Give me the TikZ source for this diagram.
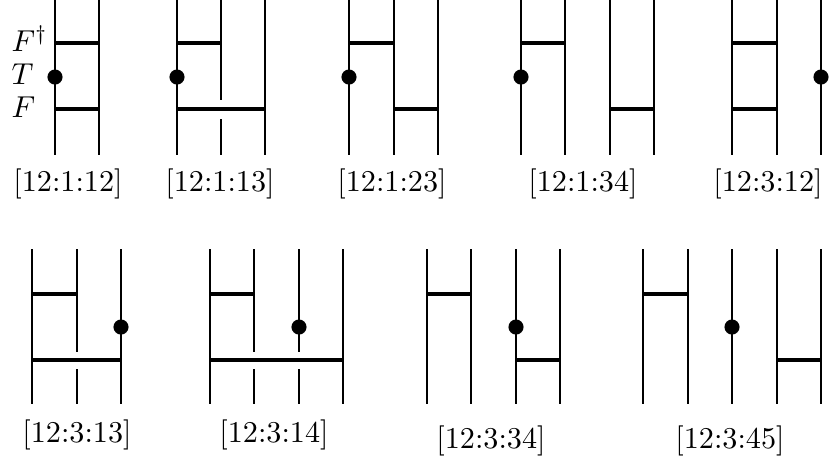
\documentclass[tikz,border=0pt]{standalone}
\usetikzlibrary{calc}
\begin{document}
\begin{tikzpicture}[x=0.331pt,y=-0.331pt,
  wire/.style={line width=0.7pt},
  bar/.style={line width=1.5pt},
  dotmark/.style={circle,fill=black,inner sep=0pt,minimum size=5pt},
  tag/.style={font=\fontsize{10}{12}\selectfont},
  sidelabel/.style={anchor=base west,inner sep=0pt,font=\fontsize{10}{12}\selectfont}]
\useasboundingbox (0,0) rectangle (835,459);

% ---------- top row: wires run from y=0 to y=155 ----------
% [12:1:12]
\draw[wire] (55,0) -- (55,155);
\draw[wire] (99,0) -- (99,155);
\draw[bar] (55,43) -- (99,43);
\draw[bar] (55,109) -- (99,109);
\node[dotmark] (d1) at (55,77) {};
\node[tag] (l1) at (68,184) {[12:1:12]};
\node[sidelabel] (fd) at (11,51) {$F^\dagger$};
\node[sidelabel] (tt) at (11,84) {$T$};
\node[sidelabel] (ff) at (11,117) {$F$};

% [12:1:13]
\draw[wire] (177,0) -- (177,155);
\draw[wire] (221,0) -- (221,100);
\draw[wire] (221,119) -- (221,155);
\draw[wire] (265,0) -- (265,155);
\draw[bar] (177,43) -- (221,43);
\draw[bar] (177,109) -- (265,109);
\node[dotmark] (d2) at (177,77) {};
\node[tag] (l2) at (220,184) {[12:1:13]};

% [12:1:23]
\draw[wire] (349,0) -- (349,155);
\draw[wire] (394,0) -- (394,155);
\draw[wire] (438,0) -- (438,155);
\draw[bar] (349,43) -- (394,43);
\draw[bar] (394,109) -- (438,109);
\node[dotmark] (d3) at (349,77) {};
\node[tag] (l3) at (392,184) {[12:1:23]};

% [12:1:34]
\draw[wire] (521,0) -- (521,155);
\draw[wire] (565,0) -- (565,155);
\draw[wire] (610,0) -- (610,155);
\draw[wire] (654,0) -- (654,155);
\draw[bar] (521,43) -- (565,43);
\draw[bar] (610,109) -- (654,109);
\node[dotmark] (d4) at (521,77) {};
\node[tag] (l4) at (583,184) {[12:1:34]};

% [12:3:12]
\draw[wire] (732,0) -- (732,155);
\draw[wire] (777,0) -- (777,155);
\draw[wire] (821,0) -- (821,155);
\draw[bar] (732,43) -- (777,43);
\draw[bar] (732,109) -- (777,109);
\node[dotmark] (d5) at (821,77) {};
\node[tag] (l5) at (768,184) {[12:3:12]};

% ---------- bottom row: wires run from y=249 to y=404 ----------
% [12:3:13]
\draw[wire] (32,249) -- (32,404);
\draw[wire] (77,249) -- (77,352);
\draw[wire] (77,369) -- (77,404);
\draw[wire] (121,249) -- (121,404);
\draw[bar] (32,294) -- (77,294);
\draw[bar] (32,360) -- (121,360);
\node[dotmark] (d6) at (121,327) {};
\node[tag] (l6) at (77,435) {[12:3:13]};

% [12:3:14]
\draw[wire] (210,249) -- (210,404);
\draw[wire] (254,249) -- (254,352);
\draw[wire] (254,369) -- (254,404);
\draw[wire] (299,249) -- (299,352);
\draw[wire] (299,369) -- (299,404);
\draw[wire] (343,249) -- (343,404);
\draw[bar] (210,294) -- (254,294);
\draw[bar] (210,360) -- (343,360);
\node[dotmark] (d7) at (299,327) {};
\node[tag] (l7) at (274,435) {[12:3:14]};

% [12:3:34]
\draw[wire] (427,249) -- (427,404);
\draw[wire] (471,249) -- (471,404);
\draw[wire] (516,249) -- (516,404);
\draw[wire] (560,249) -- (560,404);
\draw[bar] (427,294) -- (471,294);
\draw[bar] (516,360) -- (560,360);
\node[dotmark] (d8) at (516,327) {};
\node[tag] (l8) at (491,441) {[12:3:34]};

% [12:3:45]
\draw[wire] (643,249) -- (643,404);
\draw[wire] (688,249) -- (688,404);
\draw[wire] (732,249) -- (732,404);
\draw[wire] (777,249) -- (777,404);
\draw[wire] (821,249) -- (821,404);
\draw[bar] (643,294) -- (688,294);
\draw[bar] (777,360) -- (821,360);
\node[dotmark] (d9) at (732,327) {};
\node[tag] (l9) at (730,441) {[12:3:45]};
\end{tikzpicture}
\end{document}
